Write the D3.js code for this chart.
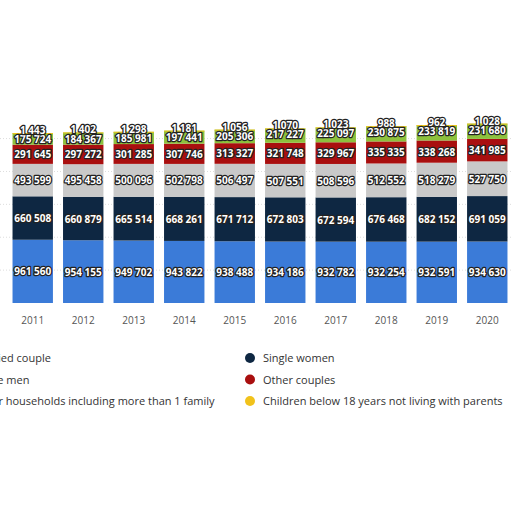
<!DOCTYPE html>
<html><head><meta charset="utf-8">
<script src="https://cdn.jsdelivr.net/npm/d3@7"></script>
<style>body{margin:0;background:#fff;} text{font-family:"Open Sans",Arial,sans-serif;}</style>
</head><body><div id="chart"></div>
<script>
var years = ["2011","2012","2013","2014","2015","2016","2017","2018","2019","2020"];
var married = [961560,954155,949702,943822,938488,934186,932782,932254,932591,934630];
var singleWomen = [660508,660879,665514,668261,671712,672803,672594,676468,682152,691059];
var singleMen = [493599,495458,500096,502798,506497,507551,508596,512552,518279,527750];
var otherCouples = [291645,297272,301285,307746,313327,321748,329967,335335,338268,341985];
var otherHouseholds = [175724,184367,185981,197441,205306,217227,225097,230875,233819,231680];
var children = [1443,1402,1298,1181,1056,1070,1023,988,962,1028];

var seriesNames = ["Married couple","Single women","Single men","Other couples","Other households including more than 1 family","Children below 18 years not living with parents"];
var seriesValues = [married, singleWomen, singleMen, otherCouples, otherHouseholds, children];
var colors = ["#3b7bd8","#0e2742","#c9c9c9","#a90f0f","#8dc13d","#f1c21b"];

var svg = d3.select("#chart").append("svg").attr("width",512).attr("height",512);

var rows = years.map(function(y,i){
  var r = {year:y};
  seriesNames.forEach(function(n,j){ r[n] = seriesValues[j][i]; });
  return r;
});
var stack = d3.stack().keys(seriesNames)(rows);

var x = d3.scaleBand().domain(years).range([10,510]).paddingInner(0.2).paddingOuter(0.05);
var y = d3.scaleLinear().domain([0,2600000]).range([303,132]);

// faint grid
svg.append("g").selectAll("line").data([500000,1000000,1500000,2000000,2500000]).enter()
  .append("line").attr("x1",0).attr("x2",512).attr("y1",d=>y(d)).attr("y2",d=>y(d))
  .attr("stroke","#ddd").attr("stroke-dasharray","1,2");

var layers = svg.append("g").selectAll("g").data(stack).enter().append("g")
  .attr("fill",(d,i)=>colors[i]);
layers.selectAll("rect").data(d=>d).enter().append("rect")
  .attr("x",d=>x(d.data.year)).attr("width",x.bandwidth())
  .attr("y",d=>y(d[1])).attr("height",d=>Math.max(1,y(d[0])-y(d[1])));

var fmt = function(v){ return d3.format(",")(v).replace(/,/g," "); };
var labels = svg.append("g").attr("font-size",10).attr("font-weight","bold").attr("text-anchor","middle");
stack.forEach(function(layer,i){
  labels.selectAll(null).data(layer).enter().append("text")
    .attr("x",d=>x(d.data.year)+x.bandwidth()/2)
    .attr("y",d=> i==5 ? y(d[1])+1 : (i==4 ? y(d[1])+10 : (y(d[0])+y(d[1]))/2+4))
    .attr("fill","#fff").attr("stroke","#222").attr("stroke-width",2.5)
    .attr("paint-order","stroke").attr("stroke-linejoin","round")
    .text(d=>fmt(d.data[layer.key]));
});

var xAxis = svg.append("g").attr("transform","translate(0,303)")
  .call(d3.axisBottom(x).tickSize(0).tickPadding(14));
xAxis.select(".domain").remove();
xAxis.selectAll("text").attr("fill","#555").attr("font-size",10);

var legend = svg.append("g").attr("font-size",11);
seriesNames.forEach(function(n,i){
  var col = i%2, row = Math.floor(i/2);
  var lx = col==0 ? -40 : 250, ly = 358 + row*21.5;
  legend.append("circle").attr("cx",lx).attr("cy",ly).attr("r",5).attr("fill",colors[i]);
  legend.append("text").attr("x",lx+13).attr("y",ly+4).attr("fill","#333").text(n);
});
</script></body></html>
